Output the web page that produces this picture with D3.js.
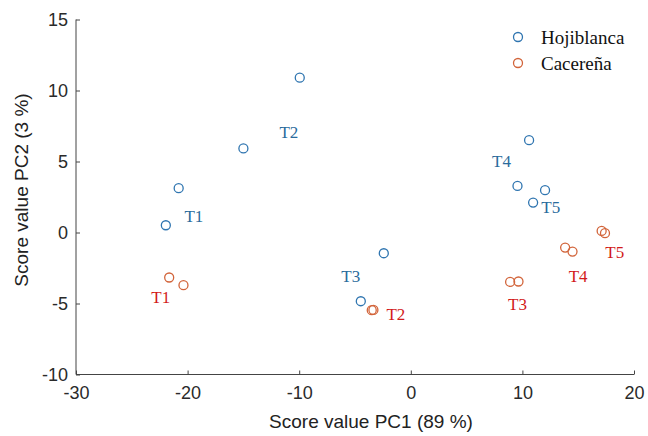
<!DOCTYPE html>
<html>
<head>
<meta charset="utf-8">
<script src="https://cdn.jsdelivr.net/npm/d3@7"></script>
<style>
  html, body { margin: 0; padding: 0; background: #fff; }
  svg { display: block; }
</style>
</head>
<body>
<svg id="chart" width="648" height="436"></svg>
<script>
// PCA scores (PC1, PC2) for two olive cultivars at five sampling times
const hojiPC1 = [-21.95, -20.8, -15.0, -9.95, -4.48, -2.42, 10.6, 9.56, 12.03, 10.96];
const hojiPC2 = [0.51, 3.12, 5.92, 10.9, -4.84, -1.46, 6.5, 3.28, 2.98, 2.11];
const cacePC1 = [-21.65, -20.37, -3.5, -3.35, 8.9, 9.65, 13.83, 14.49, 17.1, 17.4];
const cacePC2 = [-3.17, -3.71, -5.47, -5.45, -3.48, -3.45, -1.06, -1.34, 0.11, -0.05];

// Sampling-time annotations, placed in score units
const hojiTags = ["T1", "T2", "T3", "T4", "T5"];
const hojiTagPC1 = [-19.44, -10.93, -5.38, 8.13, 12.54];
const hojiTagPC2 = [1.17, 7.06, -3.06, 5.04, 1.78];
const caceTags = ["T1", "T2", "T3", "T4", "T5"];
const caceTagPC1 = [-22.4, -1.34, 9.56, 14.99, 18.28];
const caceTagPC2 = [-4.56, -5.75, -5.05, -3.06, -1.41];

const seriesNames = ["Hojiblanca", "Cacereña"];
const xTicks = [-30, -20, -10, 0, 10, 20];
const yTicks = [-10, -5, 0, 5, 10, 15];

const colors = { hoji: "#2f75b0", cace: "#d2643a", hojiText: "#2a6b9c", caceText: "#d21a1a", axis: "#444" };

const svg = d3.select("#chart");
const m = { left: 76, right: 634, top: 19.5, bottom: 374.5 };

const x = d3.scaleLinear().domain([-30, 20]).range([m.left, m.right]);
const y = d3.scaleLinear().domain([-10, 15]).range([m.bottom, m.top]);

const sansFont = "'Liberation Sans', Arial, sans-serif";
const serifFont = "'Liberation Serif', 'Times New Roman', serif";

// Plain hyphen-minus for negative tick values
const plain = d => String(d);

// Axes with inward ticks
const xAxis = d3.axisBottom(x).tickValues(xTicks).tickSize(-4).tickPadding(12).tickFormat(plain);
const yAxis = d3.axisLeft(y).tickValues(yTicks).tickSize(-4).tickPadding(8).tickFormat(plain);

const gx = svg.append("g").attr("transform", `translate(0,${m.bottom})`).call(xAxis);
const gy = svg.append("g").attr("transform", `translate(${m.left},0)`).call(yAxis);

[gx, gy].forEach(g => {
  g.select(".domain").attr("stroke", colors.axis).attr("stroke-width", 1);
  g.selectAll(".tick line").attr("stroke", colors.axis).attr("stroke-width", 1);
  g.selectAll(".tick text").attr("fill", "#2a2a2a").style("font-family", sansFont).style("font-size", "18px");
});
gx.selectAll(".tick text").attr("dy", "0.71em");
gy.selectAll(".tick text").attr("dy", "0.35em");
// plain domain lines without end caps
gx.select(".domain").attr("d", `M${m.left},0H${m.right}`);
gy.select(".domain").attr("d", `M0,${m.bottom}V${m.top}`);

// Axis titles
svg.append("text")
  .attr("x", 371).attr("y", 428)
  .attr("text-anchor", "middle")
  .style("font-family", sansFont).style("font-size", "19px").attr("fill", "#222")
  .text("Score value PC1 (89 %)");

svg.append("text")
  .attr("transform", `translate(28,190) rotate(-90)`)
  .attr("text-anchor", "middle")
  .style("font-family", sansFont).style("font-size", "19px").attr("fill", "#222")
  .text("Score value PC2 (3 %)");

// Points
function drawSeries(xs, ys, color) {
  svg.append("g").selectAll("circle")
    .data(xs.map((v, i) => [v, ys[i]]))
    .join("circle")
    .attr("cx", d => x(d[0]))
    .attr("cy", d => y(d[1]))
    .attr("r", 4.5)
    .attr("fill", "none")
    .attr("stroke", color)
    .attr("stroke-width", 1.3);
}
drawSeries(hojiPC1, hojiPC2, colors.hoji);
drawSeries(cacePC1, cacePC2, colors.cace);

// Sampling-time labels
function drawTags(tags, xs, ys, color) {
  svg.append("g").selectAll("text")
    .data(tags.map((t, i) => ({ t, px: xs[i], py: ys[i] })))
    .join("text")
    .attr("x", d => x(d.px))
    .attr("y", d => y(d.py))
    .attr("text-anchor", "middle")
    .attr("dy", "0.35em")
    .style("font-family", serifFont).style("font-size", "17px")
    .attr("fill", color)
    .text(d => d.t);
}
drawTags(hojiTags, hojiTagPC1, hojiTagPC2, colors.hojiText);
drawTags(caceTags, caceTagPC1, caceTagPC2, colors.caceText);

// Legend
const legend = svg.append("g");
const legendColors = [colors.hoji, colors.cace];
seriesNames.forEach((name, i) => {
  const cy = 37 + i * 26;
  legend.append("circle")
    .attr("cx", 518).attr("cy", cy).attr("r", 4.5)
    .attr("fill", "none").attr("stroke", legendColors[i]).attr("stroke-width", 1.3);
  legend.append("text")
    .attr("x", 541).attr("y", cy).attr("dy", "0.35em")
    .style("font-family", serifFont).style("font-size", "19px").attr("fill", "#111")
    .text(name);
});
</script>
</body>
</html>
